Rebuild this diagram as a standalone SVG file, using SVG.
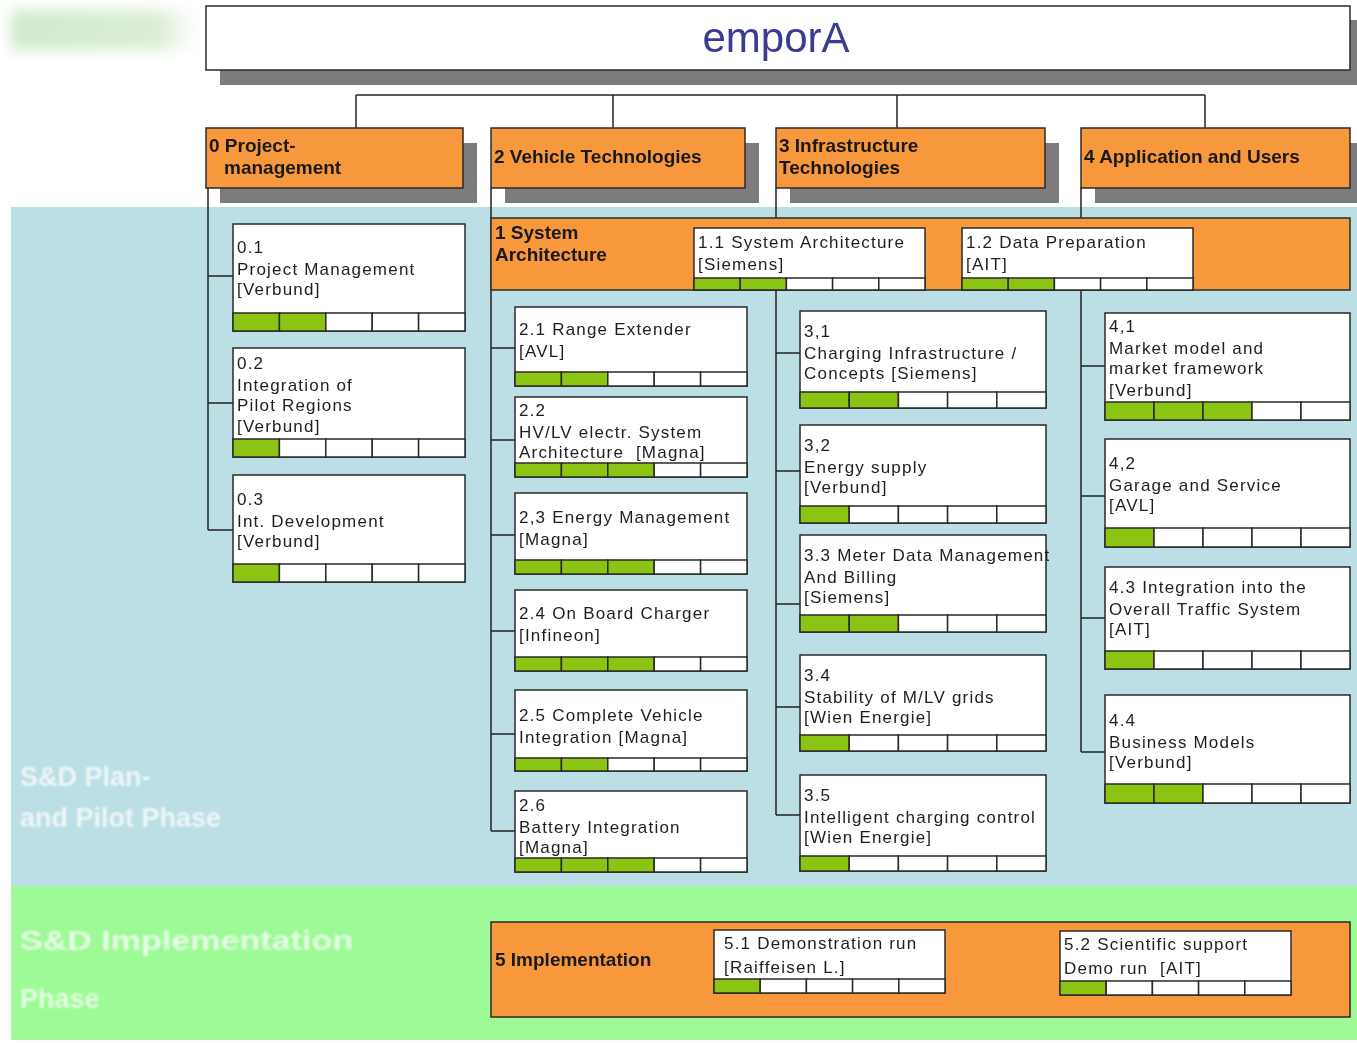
<svg xmlns="http://www.w3.org/2000/svg" width="1357" height="1043" viewBox="0 0 1357 1043">
<defs>
<style>
.bg-blue{fill:#bbdfe4}
.bg-green{fill:#9dfa96}
.shadow{fill:#7c7c7c}
.orange{fill:#f8983c;stroke:#2a2a2a;stroke-width:1.5}
.box{fill:#ffffff;stroke:#2a2a2a;stroke-width:1.5}
.cell{fill:#ffffff;stroke:#2a2a2a;stroke-width:1.5}
.cell.g{fill:#8cc414}
.hd{font-family:"Liberation Sans",Arial,sans-serif;font-weight:bold;font-size:19px;fill:#1a1a1a}
.tx{font-family:"Liberation Sans",Arial,sans-serif;font-size:17px;letter-spacing:1.2px;fill:#1e1e1e}
.pre{white-space:pre}
.title{font-family:"Liberation Sans",Arial,sans-serif;font-size:42px;fill:#3b3b92}
.phase{font-family:"Liberation Sans",Arial,sans-serif;font-weight:bold;font-size:27px;fill:#ffffff;opacity:0.75}
.conn line{stroke:#222222;stroke-width:1.5}
</style>
<linearGradient id="tl" x1="0" y1="0" x2="1" y2="0">
<stop offset="0" stop-color="#c4e3bf" stop-opacity="0.8"/>
<stop offset="0.75" stop-color="#c2e3ba" stop-opacity="0.6"/>
<stop offset="1" stop-color="#ffffff" stop-opacity="0"/>
</linearGradient>
<filter id="soft" x="-0.1" y="-0.5" width="1.2" height="2"><feGaussianBlur stdDeviation="7"/></filter>
<filter id="fade" x="-0.05" y="-0.3" width="1.1" height="1.6"><feGaussianBlur stdDeviation="0.9"/></filter>
</defs>

<!-- background -->
<rect x="0" y="0" width="1357" height="1043" fill="#ffffff"/>
<rect x="11" y="10" width="200" height="40" fill="url(#tl)" filter="url(#soft)"/>
<rect class="bg-blue" x="11" y="207" width="1346" height="679"/>
<rect class="bg-green" x="11" y="886" width="1346" height="154"/>

<g id="phase-labels" filter="url(#fade)">
<text class="phase" x="20" y="786">S&amp;D Plan-</text>
<text class="phase" x="20" y="827">and Pilot Phase</text>
<text class="phase" x="20" y="950" textLength="333" lengthAdjust="spacingAndGlyphs">S&amp;D Implementation</text>
<text class="phase" x="20" y="1008">Phase</text>
</g>

<!-- connectors -->
<g id="connectors" class="conn">
<line x1="356" y1="95" x2="1205" y2="95"/>
<line x1="356" y1="95" x2="356" y2="128"/>
<line x1="613" y1="95" x2="613" y2="128"/>
<line x1="897" y1="95" x2="897" y2="128"/>
<line x1="1205" y1="95" x2="1205" y2="128"/>
<line x1="208" y1="188" x2="208" y2="530"/>
<line x1="208" y1="276" x2="233" y2="276"/>
<line x1="208" y1="403" x2="233" y2="403"/>
<line x1="208" y1="530" x2="233" y2="530"/>
<line x1="491" y1="188" x2="491" y2="831"/>
<line x1="491" y1="348" x2="515" y2="348"/>
<line x1="491" y1="440" x2="515" y2="440"/>
<line x1="491" y1="535" x2="515" y2="535"/>
<line x1="491" y1="631" x2="515" y2="631"/>
<line x1="491" y1="734" x2="515" y2="734"/>
<line x1="491" y1="831" x2="515" y2="831"/>
<line x1="776" y1="188" x2="776" y2="815"/>
<line x1="776" y1="353" x2="800" y2="353"/>
<line x1="776" y1="471" x2="800" y2="471"/>
<line x1="776" y1="604" x2="800" y2="604"/>
<line x1="776" y1="707" x2="800" y2="707"/>
<line x1="776" y1="815" x2="800" y2="815"/>
<line x1="1081" y1="188" x2="1081" y2="752"/>
<line x1="1081" y1="366" x2="1105" y2="366"/>
<line x1="1081" y1="496" x2="1105" y2="496"/>
<line x1="1081" y1="618" x2="1105" y2="618"/>
<line x1="1081" y1="752" x2="1105" y2="752"/>
</g>

<!-- title -->
<g id="n-title">
<rect class="shadow" x="220" y="20" width="1144" height="65"/>
<rect class="box" x="206" y="6" width="1144" height="64"/>
<text class="title" x="776" y="52" text-anchor="middle">emporA</text>
</g>

<!-- level 1 -->
<g id="n-0">
<rect class="shadow" x="220" y="143" width="257" height="60"/>
<rect class="orange" x="206" y="128" width="257" height="60"/>
<text class="hd" x="209" y="152">0 Project-</text>
<text class="hd" x="224" y="174">management</text>
</g>
<g id="n-2">
<rect class="shadow" x="505" y="143" width="254" height="60"/>
<rect class="orange" x="491" y="128" width="254" height="60"/>
<text class="hd" x="494" y="163">2 Vehicle Technologies</text>
</g>
<g id="n-3">
<rect class="shadow" x="790" y="143" width="269" height="60"/>
<rect class="orange" x="776" y="128" width="269" height="60"/>
<text class="hd" x="779" y="152">3 Infrastructure</text>
<text class="hd" x="779" y="174">Technologies</text>
</g>
<g id="n-4">
<rect class="shadow" x="1095" y="143" width="269" height="60"/>
<rect class="orange" x="1081" y="128" width="269" height="60"/>
<text class="hd" x="1084" y="163">4 Application and Users</text>
</g>

<!-- 1 System Architecture band -->
<g id="n-1">
<rect class="orange" x="491" y="218" width="859" height="72"/>
<text class="hd" x="495" y="239">1 System</text>
<text class="hd" x="495" y="261">Architecture</text>
</g>
<g id="n-1-1">
<rect class="box" x="694" y="228" width="231" height="62"/>
<rect class="cell g" x="694" y="278" width="46.2" height="12"/><rect class="cell g" x="740.2" y="278" width="46.2" height="12"/><rect class="cell" x="786.4" y="278" width="46.2" height="12"/><rect class="cell" x="832.6" y="278" width="46.2" height="12"/><rect class="cell" x="878.8" y="278" width="46.2" height="12"/>
<text class="tx" x="698" y="248">1.1 System Architecture</text>
<text class="tx" x="698" y="270">[Siemens]</text>
</g>
<g id="n-1-2">
<rect class="box" x="962" y="228" width="231" height="62"/>
<rect class="cell g" x="962" y="278" width="46.2" height="12"/><rect class="cell g" x="1008.2" y="278" width="46.2" height="12"/><rect class="cell" x="1054.4" y="278" width="46.2" height="12"/><rect class="cell" x="1100.6" y="278" width="46.2" height="12"/><rect class="cell" x="1146.8" y="278" width="46.2" height="12"/>
<text class="tx" x="966" y="248">1.2 Data Preparation</text>
<text class="tx" x="966" y="270">[AIT]</text>
</g>

<!-- column 0 -->
<g id="n-0-1">
<rect class="box" x="233" y="224" width="232" height="107"/>
<rect class="cell g" x="233" y="313" width="46.4" height="18"/><rect class="cell g" x="279.4" y="313" width="46.4" height="18"/><rect class="cell" x="325.8" y="313" width="46.4" height="18"/><rect class="cell" x="372.2" y="313" width="46.4" height="18"/><rect class="cell" x="418.6" y="313" width="46.4" height="18"/>
<text class="tx" x="237" y="253">0.1</text>
<text class="tx" x="237" y="275">Project Management</text>
<text class="tx" x="237" y="295">[Verbund]</text>
</g>
<g id="n-0-2">
<rect class="box" x="233" y="348" width="232" height="109"/>
<rect class="cell g" x="233" y="439" width="46.4" height="18"/><rect class="cell" x="279.4" y="439" width="46.4" height="18"/><rect class="cell" x="325.8" y="439" width="46.4" height="18"/><rect class="cell" x="372.2" y="439" width="46.4" height="18"/><rect class="cell" x="418.6" y="439" width="46.4" height="18"/>
<text class="tx" x="237" y="369">0.2</text>
<text class="tx" x="237" y="391">Integration of</text>
<text class="tx" x="237" y="411">Pilot Regions</text>
<text class="tx" x="237" y="432">[Verbund]</text>
</g>
<g id="n-0-3">
<rect class="box" x="233" y="475" width="232" height="107"/>
<rect class="cell g" x="233" y="564" width="46.4" height="18"/><rect class="cell" x="279.4" y="564" width="46.4" height="18"/><rect class="cell" x="325.8" y="564" width="46.4" height="18"/><rect class="cell" x="372.2" y="564" width="46.4" height="18"/><rect class="cell" x="418.6" y="564" width="46.4" height="18"/>
<text class="tx" x="237" y="505">0.3</text>
<text class="tx" x="237" y="527">Int. Development</text>
<text class="tx" x="237" y="547">[Verbund]</text>
</g>

<!-- column 2 -->
<g id="n-2-1">
<rect class="box" x="515" y="307" width="232" height="79"/>
<rect class="cell g" x="515" y="372" width="46.4" height="14"/><rect class="cell g" x="561.4" y="372" width="46.4" height="14"/><rect class="cell" x="607.8" y="372" width="46.4" height="14"/><rect class="cell" x="654.2" y="372" width="46.4" height="14"/><rect class="cell" x="700.6" y="372" width="46.4" height="14"/>
<text class="tx" x="519" y="335">2.1 Range Extender</text>
<text class="tx" x="519" y="357">[AVL]</text>
</g>
<g id="n-2-2">
<rect class="box" x="515" y="397" width="232" height="80"/>
<rect class="cell g" x="515" y="463" width="46.4" height="14"/><rect class="cell g" x="561.4" y="463" width="46.4" height="14"/><rect class="cell g" x="607.8" y="463" width="46.4" height="14"/><rect class="cell" x="654.2" y="463" width="46.4" height="14"/><rect class="cell" x="700.6" y="463" width="46.4" height="14"/>
<text class="tx" x="519" y="416">2.2</text>
<text class="tx" x="519" y="438">HV/LV electr. System</text>
<text class="tx pre" x="519" y="458">Architecture  [Magna]</text>
</g>
<g id="n-2-3">
<rect class="box" x="515" y="493" width="232" height="81"/>
<rect class="cell g" x="515" y="560" width="46.4" height="14"/><rect class="cell g" x="561.4" y="560" width="46.4" height="14"/><rect class="cell g" x="607.8" y="560" width="46.4" height="14"/><rect class="cell" x="654.2" y="560" width="46.4" height="14"/><rect class="cell" x="700.6" y="560" width="46.4" height="14"/>
<text class="tx" x="519" y="523">2,3 Energy Management</text>
<text class="tx" x="519" y="545">[Magna]</text>
</g>
<g id="n-2-4">
<rect class="box" x="515" y="590" width="232" height="81"/>
<rect class="cell g" x="515" y="657" width="46.4" height="14"/><rect class="cell g" x="561.4" y="657" width="46.4" height="14"/><rect class="cell g" x="607.8" y="657" width="46.4" height="14"/><rect class="cell" x="654.2" y="657" width="46.4" height="14"/><rect class="cell" x="700.6" y="657" width="46.4" height="14"/>
<text class="tx" x="519" y="619">2.4 On Board Charger</text>
<text class="tx" x="519" y="641">[Infineon]</text>
</g>
<g id="n-2-5">
<rect class="box" x="515" y="690" width="232" height="81"/>
<rect class="cell g" x="515" y="758" width="46.4" height="13"/><rect class="cell g" x="561.4" y="758" width="46.4" height="13"/><rect class="cell" x="607.8" y="758" width="46.4" height="13"/><rect class="cell" x="654.2" y="758" width="46.4" height="13"/><rect class="cell" x="700.6" y="758" width="46.4" height="13"/>
<text class="tx" x="519" y="721">2.5 Complete Vehicle</text>
<text class="tx" x="519" y="743">Integration [Magna]</text>
</g>
<g id="n-2-6">
<rect class="box" x="515" y="791" width="232" height="81"/>
<rect class="cell g" x="515" y="858" width="46.4" height="14"/><rect class="cell g" x="561.4" y="858" width="46.4" height="14"/><rect class="cell g" x="607.8" y="858" width="46.4" height="14"/><rect class="cell" x="654.2" y="858" width="46.4" height="14"/><rect class="cell" x="700.6" y="858" width="46.4" height="14"/>
<text class="tx" x="519" y="811">2.6</text>
<text class="tx" x="519" y="833">Battery Integration</text>
<text class="tx" x="519" y="853">[Magna]</text>
</g>

<!-- column 3 -->
<g id="n-3-1">
<rect class="box" x="800" y="311" width="246" height="97"/>
<rect class="cell g" x="800" y="392" width="49.2" height="16"/><rect class="cell g" x="849.2" y="392" width="49.2" height="16"/><rect class="cell" x="898.4" y="392" width="49.2" height="16"/><rect class="cell" x="947.6" y="392" width="49.2" height="16"/><rect class="cell" x="996.8" y="392" width="49.2" height="16"/>
<text class="tx" x="804" y="337">3,1</text>
<text class="tx" x="804" y="359">Charging Infrastructure /</text>
<text class="tx" x="804" y="379">Concepts [Siemens]</text>
</g>
<g id="n-3-2">
<rect class="box" x="800" y="425" width="246" height="98"/>
<rect class="cell g" x="800" y="506" width="49.2" height="17"/><rect class="cell" x="849.2" y="506" width="49.2" height="17"/><rect class="cell" x="898.4" y="506" width="49.2" height="17"/><rect class="cell" x="947.6" y="506" width="49.2" height="17"/><rect class="cell" x="996.8" y="506" width="49.2" height="17"/>
<text class="tx" x="804" y="451">3,2</text>
<text class="tx" x="804" y="473">Energy supply</text>
<text class="tx" x="804" y="493">[Verbund]</text>
</g>
<g id="n-3-3">
<rect class="box" x="800" y="535" width="246" height="97"/>
<rect class="cell g" x="800" y="615" width="49.2" height="17"/><rect class="cell g" x="849.2" y="615" width="49.2" height="17"/><rect class="cell" x="898.4" y="615" width="49.2" height="17"/><rect class="cell" x="947.6" y="615" width="49.2" height="17"/><rect class="cell" x="996.8" y="615" width="49.2" height="17"/>
<text class="tx" x="804" y="561">3.3 Meter Data Management</text>
<text class="tx" x="804" y="583">And Billing</text>
<text class="tx" x="804" y="603">[Siemens]</text>
</g>
<g id="n-3-4">
<rect class="box" x="800" y="655" width="246" height="96"/>
<rect class="cell g" x="800" y="735" width="49.2" height="16"/><rect class="cell" x="849.2" y="735" width="49.2" height="16"/><rect class="cell" x="898.4" y="735" width="49.2" height="16"/><rect class="cell" x="947.6" y="735" width="49.2" height="16"/><rect class="cell" x="996.8" y="735" width="49.2" height="16"/>
<text class="tx" x="804" y="681">3.4</text>
<text class="tx" x="804" y="703">Stability of M/LV grids</text>
<text class="tx" x="804" y="723">[Wien Energie]</text>
</g>
<g id="n-3-5">
<rect class="box" x="800" y="775" width="246" height="96"/>
<rect class="cell g" x="800" y="856" width="49.2" height="15"/><rect class="cell" x="849.2" y="856" width="49.2" height="15"/><rect class="cell" x="898.4" y="856" width="49.2" height="15"/><rect class="cell" x="947.6" y="856" width="49.2" height="15"/><rect class="cell" x="996.8" y="856" width="49.2" height="15"/>
<text class="tx" x="804" y="801">3.5</text>
<text class="tx" x="804" y="823">Intelligent charging control</text>
<text class="tx" x="804" y="843">[Wien Energie]</text>
</g>

<!-- column 4 -->
<g id="n-4-1">
<rect class="box" x="1105" y="313" width="245" height="107"/>
<rect class="cell g" x="1105" y="402" width="49" height="18"/><rect class="cell g" x="1154" y="402" width="49" height="18"/><rect class="cell g" x="1203" y="402" width="49" height="18"/><rect class="cell" x="1252" y="402" width="49" height="18"/><rect class="cell" x="1301" y="402" width="49" height="18"/>
<text class="tx" x="1109" y="332">4,1</text>
<text class="tx" x="1109" y="354">Market model and</text>
<text class="tx" x="1109" y="374">market framework</text>
<text class="tx" x="1109" y="396">[Verbund]</text>
</g>
<g id="n-4-2">
<rect class="box" x="1105" y="439" width="245" height="108"/>
<rect class="cell g" x="1105" y="528" width="49" height="19"/><rect class="cell" x="1154" y="528" width="49" height="19"/><rect class="cell" x="1203" y="528" width="49" height="19"/><rect class="cell" x="1252" y="528" width="49" height="19"/><rect class="cell" x="1301" y="528" width="49" height="19"/>
<text class="tx" x="1109" y="469">4,2</text>
<text class="tx" x="1109" y="491">Garage and Service</text>
<text class="tx" x="1109" y="511">[AVL]</text>
</g>
<g id="n-4-3">
<rect class="box" x="1105" y="567" width="245" height="102"/>
<rect class="cell g" x="1105" y="651" width="49" height="18"/><rect class="cell" x="1154" y="651" width="49" height="18"/><rect class="cell" x="1203" y="651" width="49" height="18"/><rect class="cell" x="1252" y="651" width="49" height="18"/><rect class="cell" x="1301" y="651" width="49" height="18"/>
<text class="tx" x="1109" y="593">4.3 Integration into the</text>
<text class="tx" x="1109" y="615">Overall Traffic System</text>
<text class="tx" x="1109" y="635">[AIT]</text>
</g>
<g id="n-4-4">
<rect class="box" x="1105" y="695" width="245" height="108"/>
<rect class="cell g" x="1105" y="784" width="49" height="19"/><rect class="cell g" x="1154" y="784" width="49" height="19"/><rect class="cell" x="1203" y="784" width="49" height="19"/><rect class="cell" x="1252" y="784" width="49" height="19"/><rect class="cell" x="1301" y="784" width="49" height="19"/>
<text class="tx" x="1109" y="726">4.4</text>
<text class="tx" x="1109" y="748">Business Models</text>
<text class="tx" x="1109" y="768">[Verbund]</text>
</g>

<!-- 5 Implementation band -->
<g id="n-5">
<rect class="orange" x="491" y="922" width="859" height="95"/>
<text class="hd" x="495" y="966">5 Implementation</text>
</g>
<g id="n-5-1">
<rect class="box" x="714" y="930" width="231" height="63"/>
<rect class="cell g" x="714" y="979" width="46.2" height="14"/><rect class="cell" x="760.2" y="979" width="46.2" height="14"/><rect class="cell" x="806.4" y="979" width="46.2" height="14"/><rect class="cell" x="852.6" y="979" width="46.2" height="14"/><rect class="cell" x="898.8" y="979" width="46.2" height="14"/>
<text class="tx" x="724" y="949">5.1 Demonstration run</text>
<text class="tx" x="724" y="973">[Raiffeisen L.]</text>
</g>
<g id="n-5-2">
<rect class="box" x="1060" y="931" width="231" height="64"/>
<rect class="cell g" x="1060" y="981" width="46.2" height="14"/><rect class="cell" x="1106.2" y="981" width="46.2" height="14"/><rect class="cell" x="1152.4" y="981" width="46.2" height="14"/><rect class="cell" x="1198.6" y="981" width="46.2" height="14"/><rect class="cell" x="1244.8" y="981" width="46.2" height="14"/>
<text class="tx" x="1064" y="950">5.2 Scientific support</text>
<text class="tx pre" x="1064" y="974">Demo run  [AIT]</text>
</g>
</svg>
